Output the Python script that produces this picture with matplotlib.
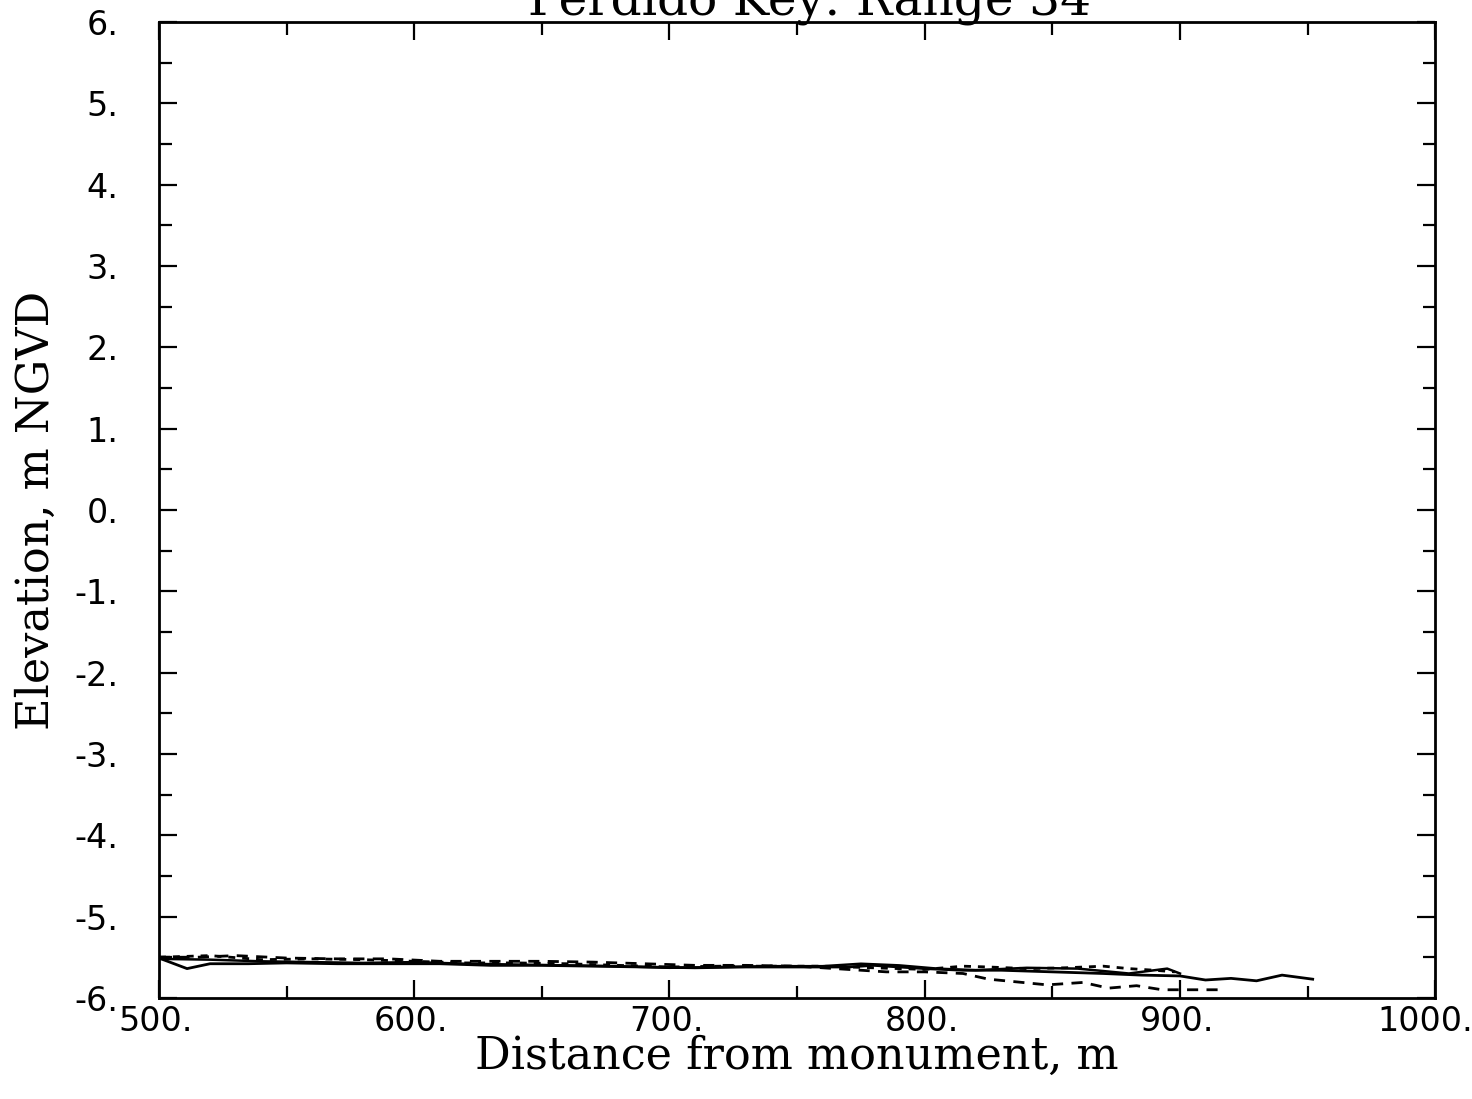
import matplotlib
matplotlib.use('Agg')
import matplotlib.pyplot as plt
import matplotlib.transforms as mtransforms
from matplotlib.ticker import MultipleLocator, FuncFormatter

# profile surveys, Perdido Key range 34 (offshore part)
x_s1 = [500, 511, 520, 535, 550, 570, 590, 610, 630, 650, 670, 690, 710, 730, 750,
        770, 780, 790, 800, 815, 830, 850, 870, 885, 900, 910, 920, 930, 940, 952]
y_s1 = [-5.51, -5.64, -5.58, -5.58, -5.57, -5.58, -5.58, -5.58, -5.60, -5.60, -5.61,
        -5.62, -5.63, -5.62, -5.62, -5.62, -5.60, -5.62, -5.64, -5.66, -5.66, -5.68,
        -5.70, -5.72, -5.73, -5.78, -5.76, -5.79, -5.72, -5.77]

x_s2 = [500, 520, 540, 560, 580, 600, 620, 640, 660, 680, 700, 720, 740, 760, 775,
        790, 805, 820, 840, 860, 880, 890, 895, 900]
y_s2 = [-5.52, -5.53, -5.55, -5.56, -5.57, -5.56, -5.58, -5.59, -5.60, -5.61, -5.63,
        -5.62, -5.61, -5.61, -5.58, -5.60, -5.64, -5.66, -5.63, -5.64, -5.70, -5.66,
        -5.64, -5.70]

x_d1 = [500, 515, 530, 550, 570, 590, 610, 630, 650, 670, 690, 710, 730, 750, 770,
        785, 800, 815, 825, 835, 848, 862, 872, 883, 893, 915]
y_d1 = [-5.50, -5.50, -5.48, -5.51, -5.52, -5.52, -5.55, -5.55, -5.55, -5.56, -5.58,
        -5.60, -5.60, -5.61, -5.65, -5.68, -5.68, -5.70, -5.77, -5.80, -5.84, -5.81,
        -5.88, -5.85, -5.90, -5.90]

x_d2 = [500, 520, 540, 560, 580, 600, 620, 640, 660, 680, 700, 720, 740, 760, 780,
        800, 815, 825, 840, 855, 870, 880, 890, 898]
y_d2 = [-5.50, -5.48, -5.53, -5.52, -5.53, -5.55, -5.57, -5.57, -5.58, -5.60, -5.62,
        -5.61, -5.61, -5.61, -5.63, -5.65, -5.61, -5.62, -5.64, -5.63, -5.61, -5.64,
        -5.66, -5.68]

fig = plt.figure(figsize=(14.72, 10.99), dpi=100)
ax = fig.add_axes([0.108, 0.092, 0.867, 0.888])

ax.plot(x_s1, y_s1, color='black', lw=2.0)
ax.plot(x_s2, y_s2, color='black', lw=1.8)
ax.plot(x_d1, y_d1, color='black', lw=2.0, dashes=(4, 3))
ax.plot(x_d2, y_d2, color='black', lw=2.0, dashes=(2.5, 2.5))

ax.set_xlim(500, 1000)
ax.set_ylim(-6, 6)
ax.xaxis.set_major_locator(MultipleLocator(100))
ax.xaxis.set_minor_locator(MultipleLocator(50))
ax.yaxis.set_major_locator(MultipleLocator(1))
ax.yaxis.set_minor_locator(MultipleLocator(0.5))
fmt = FuncFormatter(lambda v, p: '%d.' % round(v))
ax.xaxis.set_major_formatter(fmt)
ax.yaxis.set_major_formatter(fmt)

ax.tick_params(which='both', direction='in', top=True, right=True, width=1.6)
ax.tick_params(which='major', length=13)
ax.tick_params(which='minor', length=9)
ax.tick_params(axis='x', which='major', pad=5, labelsize=24)
ax.tick_params(axis='y', which='major', pad=29, labelsize=24)
for sp in ax.spines.values():
    sp.set_linewidth(2.0)

ax.set_xlabel('Distance from monument, m', family='DejaVu Serif', fontsize=32, labelpad=-2)
ax.set_ylabel('Elevation, m NGVD', family='DejaVu Serif', fontsize=32, labelpad=12)
fig.text(0.55, 0.987, 'Perdido Key: Range 34', family='DejaVu Serif', fontsize=35,
         ha='center', va='baseline')

# nudge x tick labels a little left, the 1000. one more so it stays on the page
fig.canvas.draw()
for tick in ax.xaxis.get_major_ticks():
    dx = -10 if round(tick.get_loc()) == 1000 else -3
    shift = mtransforms.ScaledTranslation(dx / 100, 0, fig.dpi_scale_trans)
    tick.label1.set_transform(tick.label1.get_transform() + shift)

fig.savefig('out.png', dpi=100)
